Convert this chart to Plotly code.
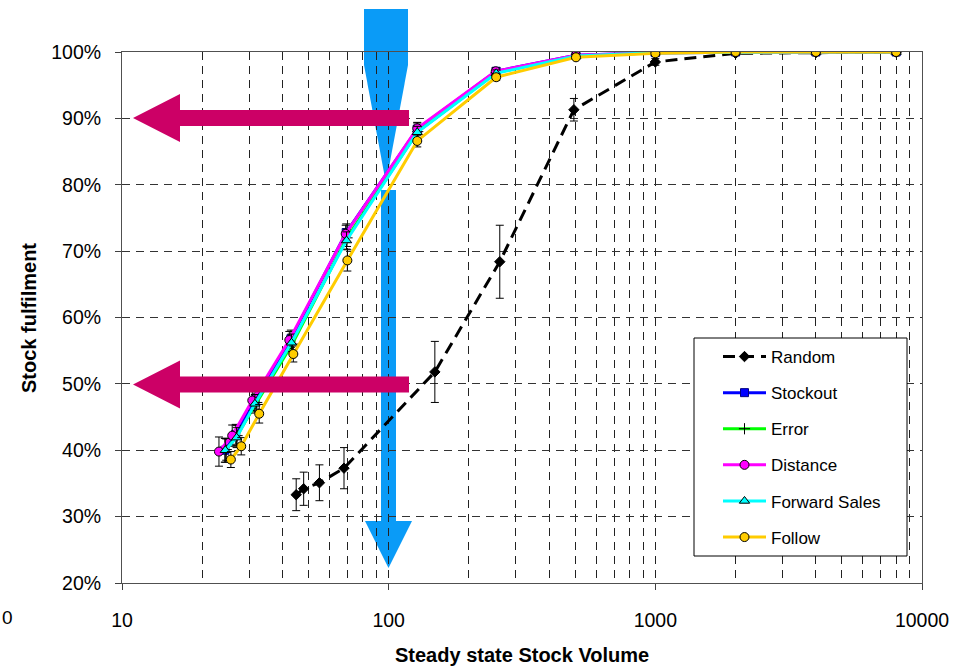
import plotly.graph_objects as go

# ---- data -------------------------------------------------------------
random_x = [45, 48, 55, 68, 149, 261, 495, 1000, 2000, 4000, 8000]
random_y = [33.3, 34.2, 35.1, 37.3, 51.8, 68.4, 91.3, 98.5, 99.8, 99.9, 100.0]
random_err = [2.4, 2.5, 2.7, 3.1, 4.6, 5.5, 1.7, 0.5, 0.1, 0.1, 0.0]

stockout_x = [24.3, 26.7, 31.6, 43.0, 69.3, 128, 253, 504, 1000, 2000, 4000, 8000]
stockout_y = [40.0, 42.4, 47.6, 56.8, 72.8, 88.4, 97.1, 99.5, 99.9, 100.0, 100.0, 100.0]
stockout_err = [1.8, 1.5, 1.4, 1.3, 1.3, 0.9, 0.5, 0.3, 0.1, 0.0, 0.0, 0.0]

error_x = [24.6, 27.0, 32.0, 43.5, 69.8, 128.5, 253, 504, 1000, 2000, 4000, 8000]
error_y = [40.1, 42.2, 47.2, 56.0, 72.0, 88.0, 96.9, 99.4, 99.9, 100.0, 100.0, 100.0]
error_err = [1.6, 1.5, 1.4, 1.3, 1.3, 0.9, 0.5, 0.3, 0.1, 0.0, 0.0, 0.0]

distance_x = [23.1, 25.9, 30.8, 42.4, 69.0, 128, 252, 504, 1000, 2000, 4000, 8000]
distance_y = [39.8, 42.2, 47.5, 56.6, 72.6, 88.5, 97.1, 99.5, 99.9, 100.0, 100.0, 100.0]
distance_err = [2.2, 1.6, 1.5, 1.3, 1.3, 0.9, 0.5, 0.3, 0.1, 0.0, 0.0, 0.0]

forward_x = [24.4, 26.9, 31.5, 43.2, 69.5, 128, 253, 504, 1000, 2000, 4000, 8000]
forward_y = [40.0, 41.9, 47.0, 56.2, 71.6, 87.9, 96.8, 99.4, 99.9, 100.0, 100.0, 100.0]
forward_err = [1.8, 1.5, 1.4, 1.3, 1.3, 0.9, 0.5, 0.3, 0.1, 0.0, 0.0, 0.0]

follow_x = [25.6, 28.0, 32.7, 43.9, 70.0, 128, 253, 504, 1000, 2000, 4000, 8000]
follow_y = [38.6, 40.6, 45.5, 54.5, 68.6, 86.6, 96.2, 99.2, 99.8, 100.0, 100.0, 100.0]
follow_err = [1.2, 1.3, 1.4, 1.2, 1.6, 0.9, 0.5, 0.3, 0.1, 0.0, 0.0, 0.0]

x_tickvals = [10, 100, 1000, 10000]
x_ticktext = ["10", "100", "1000", "10000"]
y_tickvals = [20, 30, 40, 50, 60, 70, 80, 90, 100]
y_ticktext = ["20%", "30%", "40%", "50%", "60%", "70%", "80%", "90%", "100%"]

# ---- figure geometry (pixels) -------------------------------------------
W, H = 967, 668
L, R, T, B = 122, 45, 52, 85
PW, PH = W - L - R, H - T - B


def px(x):
    return (x - L) / PW


def py(y):
    return (H - B - y) / PH


FONT = "Liberation Sans, Arial, sans-serif"

fig = go.Figure()


def add_series(name, xs, ys, errs, color, symbol, msize, mcolor, mline, dash="solid", width=3):
    fig.add_trace(go.Scatter(
        x=xs, y=ys, name=name, legendgroup=name, mode="lines+markers",
        line=dict(color=color, width=width, dash=dash),
        marker=dict(symbol=symbol, size=msize, color=mcolor,
                    line=dict(color=mline, width=1)),
        error_y=dict(type="data", array=errs, visible=True,
                     color="black", thickness=1, width=4),
    ))


add_series("Random", random_x, random_y, random_err, "black", "diamond", 8,
           "black", "black", dash="12px,7px", width=3)
add_series("Stockout", stockout_x, stockout_y, stockout_err, "#0000FF", "square", 8,
           "#0000FF", "#000080")
add_series("Error", error_x, error_y, error_err, "#00FF00", "cross-thin", 8,
           "black", "black")
add_series("Distance", distance_x, distance_y, distance_err, "#FF00FF", "circle", 9,
           "#FF00FF", "black")
add_series("Forward Sales", forward_x, forward_y, forward_err, "#00FFFF", "triangle-up", 9,
           "#00FFFF", "black")
add_series("Follow", follow_x, follow_y, follow_err, "#FFCC00", "circle", 9,
           "#FFCC00", "black")


def path(points):
    return "M " + " L ".join(f"{px(a):.5f},{py(b):.5f}" for a, b in points) + " Z"


shapes = []
BLUE = "#0A9BF7"
PINK = "#CC0066"
# blue chevron above the 100 mark
shapes.append(dict(type="path", xref="paper", yref="paper", layer="between",
                   path=path([(364, 9), (408, 9), (408, 65), (387, 178), (385, 178), (364, 65)]),
                   fillcolor=BLUE, line=dict(width=0)))
# blue down arrow
shapes.append(dict(type="path", xref="paper", yref="paper", layer="between",
                   path=path([(381, 190), (396, 190), (396, 521), (412, 521), (388.5, 568),
                              (365, 521), (381, 521)]),
                   fillcolor=BLUE, line=dict(width=0)))
# pink left arrows at 90% and 50%
for cy in (118, 384.5):
    shapes.append(dict(type="path", xref="paper", yref="paper", layer="above",
                       path=path([(409, cy - 8), (180, cy - 8), (180, cy - 24), (133, cy),
                                  (180, cy + 24), (180, cy + 8), (409, cy + 8)]),
                       fillcolor=PINK, line=dict(width=0)))
# legend box
shapes.append(dict(type="rect", xref="paper", yref="paper", layer="above",
                   x0=px(694), x1=px(907), y0=py(556), y1=py(338),
                   fillcolor="white", line=dict(color="black", width=1)))

annotations = [
    dict(text="<b>Steady state Stock Volume</b>", x=px(522), y=py(655), xref="paper", yref="paper",
         showarrow=False, font=dict(size=20, family=FONT, color="black"),
         xanchor="center", yanchor="middle"),
    dict(text="<b>Stock fulfilment</b>", x=px(29), y=py(318), xref="paper", yref="paper",
         showarrow=False, textangle=-90, font=dict(size=20, family=FONT, color="black"),
         xanchor="center", yanchor="middle"),
    dict(text="0", x=px(0), y=py(617), xref="paper", yref="paper", showarrow=False,
         font=dict(size=19, family=FONT, color="black"), xanchor="left", yanchor="middle"),
]

minor_vals = [m * 10 ** k for k in (1, 2, 3) for m in range(2, 10)]

fig.update_layout(
    width=W, height=H,
    margin=dict(l=L, r=R, t=T, b=B, autoexpand=False),
    paper_bgcolor="white", plot_bgcolor="white",
    font=dict(family=FONT, color="black"),
    shapes=shapes, annotations=annotations,
    showlegend=True,
    legend=dict(x=px(718), y=py(339), xanchor="left", yanchor="top",
                bgcolor="rgba(0,0,0,0)", borderwidth=0,
                font=dict(size=17, family=FONT, color="black"),
                tracegroupgap=11, itemwidth=43),
    xaxis=dict(type="log", range=[1, 4], tickmode="array",
               tickvals=x_tickvals, ticktext=x_ticktext,
               tickfont=dict(size=19.5, family=FONT),
               ticks="outside", ticklen=6, tickcolor="#404040",
               ticklabelstandoff=14,
               showline=True, linecolor="#505050", linewidth=1, mirror=True,
               showgrid=True, gridcolor="#222222", gridwidth=1, griddash="8px,6px",
               minor=dict(tickvals=minor_vals, showgrid=True, gridcolor="#222222",
                          gridwidth=1, griddash="8px,6px", ticks=""),
               zeroline=False),
    yaxis=dict(range=[20, 100], tickmode="array",
               tickvals=y_tickvals, ticktext=y_ticktext,
               tickfont=dict(size=19.5, family=FONT),
               ticks="outside", ticklen=6, tickcolor="#404040",
               ticklabelstandoff=10,
               showline=True, linecolor="#505050", linewidth=1, mirror=True,
               showgrid=True, gridcolor="#333333", gridwidth=1, griddash="8px,6px",
               zeroline=False),
)

fig.write_html("out.html")
